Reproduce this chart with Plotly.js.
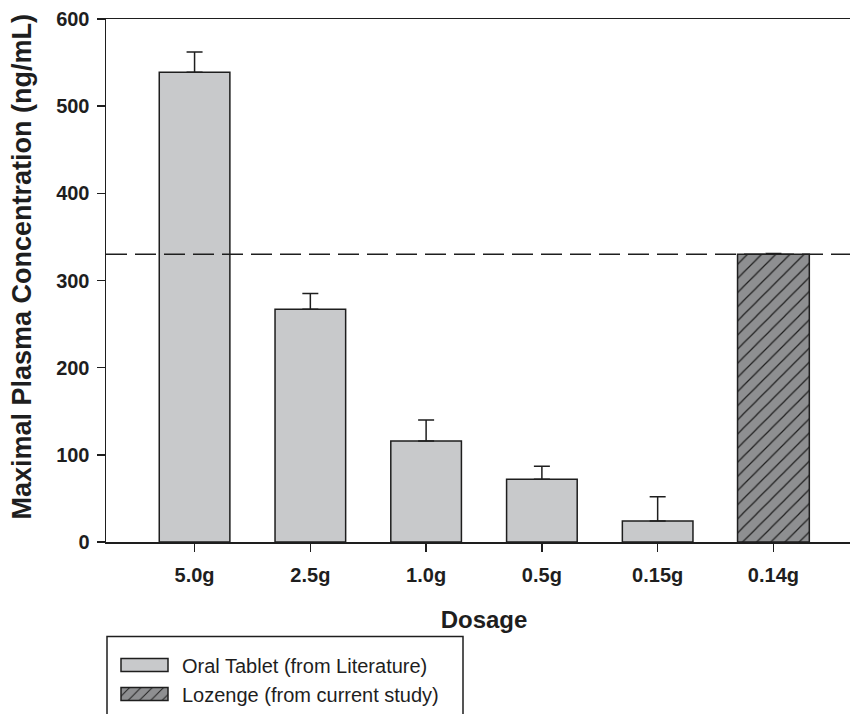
<!DOCTYPE html>
<html>
<head>
<meta charset="utf-8">
<script src="https://cdn.plot.ly/plotly-3.0.1.min.js"></script>
<style>html,body{margin:0;padding:0;background:#fff;overflow:hidden;}#chart{width:862px;height:714px;}</style>
</head>
<body>
<div id="chart"></div>
<script>
// Data
var tabletDoses = ["5.0g", "2.5g", "1.0g", "0.5g", "0.15g"];
var tabletCmax = [539, 267, 116, 72, 24];
var tabletErr = [23, 18, 24, 15, 28];
var lozengeDoses = ["0.14g"];
var lozengeCmax = [330];
var lozengeErr = [1];
var referenceLevel = 330;
var categoryOrder = ["5.0g", "2.5g", "1.0g", "0.5g", "0.15g", "0.14g"];
var seriesNames = ["Oral Tablet (from Literature)", "Lozenge (from current study)"];
var yTitle = "Maximal Plasma Concentration (ng/mL)";
var xTitle = "Dosage";

var FONT = "Liberation Sans, Arial, sans-serif";
var INK = "#1e1e1e";
var PW = 862 - 106;   // plot width in px
var PH = 545 - 19;    // plot height in px

function zeros(n){var a=[];for(var i=0;i<n;i++)a.push(0);return a;}

var traces = [
  {
    type: "bar", name: seriesNames[0], x: tabletDoses, y: tabletCmax,
    width: 0.61, legendgroup: "a",
    marker: {color: "#c8c9cb", line: {color: INK, width: 1.5}},
    error_y: {type: "data", symmetric: false, array: tabletErr, arrayminus: zeros(tabletErr.length),
              color: INK, thickness: 1.5, width: 8}
  },
  {
    type: "bar", name: seriesNames[1], x: lozengeDoses, y: lozengeCmax,
    width: 0.62, legendgroup: "b",
    marker: {color: "#8e8f91", line: {color: INK, width: 1.5},
             pattern: {shape: "/", fgcolor: INK, bgcolor: "#8e8f91", size: 10, solidity: 0.12, fillmode: "replace"}},
    error_y: {type: "data", symmetric: false, array: lozengeErr, arrayminus: zeros(lozengeErr.length),
              color: INK, thickness: 1.5, width: 8}
  }
];

var layout = {
  width: 862, height: 714,
  margin: {l: 106, r: 0, t: 19, b: 169},
  paper_bgcolor: "#fff", plot_bgcolor: "#fff",
  barmode: "overlay",
  font: {family: FONT, color: INK},
  showlegend: true,
  legend: {
    x: (112 - 106) / PW, y: (545 - 649) / PH, xanchor: "left", yanchor: "top",
    font: {family: FONT, size: 20, color: INK},
    bgcolor: "rgba(0,0,0,0)", borderwidth: 0,
    traceorder: "grouped", tracegroupgap: 0, itemwidth: 60
  },
  xaxis: {
    type: "category", categoryorder: "array", categoryarray: categoryOrder,
    range: [-0.765, 5.765],
    showline: true, linecolor: INK, linewidth: 1.5, mirror: true,
    ticks: "outside", ticklen: 8, tickwidth: 1.5, tickcolor: INK, ticklabelstandoff: 6,
    tickfont: {family: FONT, size: 20, weight: "bold", color: INK},
    showgrid: false, zeroline: false,
    title: {text: xTitle, font: {family: FONT, size: 24, weight: "bold", color: INK}, standoff: 26}
  },
  yaxis: {
    range: [0, 600], dtick: 100,
    showline: true, linecolor: INK, linewidth: 1.5,
    ticks: "outside", ticklen: 8, tickwidth: 1.5, tickcolor: INK, ticklabelstandoff: 3,
    tickfont: {family: FONT, size: 20, weight: "bold", color: INK},
    showgrid: false, zeroline: false
  },
  annotations: [
    {text: yTitle, xref: "paper", yref: "paper", x: (22 - 106) / PW, y: (545 - 268) / PH,
     xanchor: "center", yanchor: "middle", textangle: -90, showarrow: false,
     font: {family: FONT, size: 27, weight: "bold", color: INK}}
  ],
  shapes: [
    {type: "line", xref: "paper", yref: "y", x0: 0, x1: 1, y0: referenceLevel, y1: referenceLevel,
     line: {color: INK, width: 1.5, dash: "21px,8px"}, layer: "above"},
    {type: "rect", xref: "paper", yref: "paper",
     x0: (107 - 106) / PW, x1: (463 - 106) / PW, y0: (545 - 740) / PH, y1: (545 - 640) / PH,
     line: {color: INK, width: 1.5}, fillcolor: "rgba(0,0,0,0)"}
  ]
};

Plotly.newPlot("chart", traces, layout, {staticPlot: true}).then(function(){
  // widen legend swatches to match the reference's rectangular keys
  var paths = document.querySelectorAll(".legend .legendpoints path");
  paths.forEach(function(p){
    var g = p.parentNode;
    var ctm = g.getScreenCTM();
    p.removeAttribute("transform");
    var x0 = 121 - ctm.e, x1 = 168 - ctm.e;
    p.setAttribute("d", "M" + x0 + ",-6.5H" + x1 + "V6.5H" + x0 + "Z");
  });
});
</script>
</body>
</html>
